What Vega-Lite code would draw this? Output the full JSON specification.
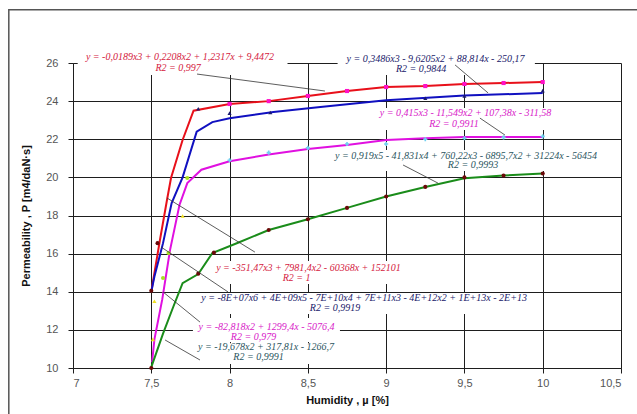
{
  "$schema": "https://vega.github.io/schema/vega-lite/v6.json",
  "width": 548,
  "height": 305,
  "autosize": "none",
  "padding": {"left": 73, "top": 63, "right": 16, "bottom": 46},
  "background": "white",
  "config": {
    "view": {"stroke": null},
    "axis": {
      "grid": true, "gridColor": "#1e1e1e", "gridOpacity": 1, "gridWidth": 1,
      "domainColor": "#1e1e1e", "tickColor": "#1e1e1e", "tickSize": 5,
      "labelFont": "Liberation Sans", "labelFontSize": 11, "labelColor": "#555555",
      "titleFont": "Liberation Sans", "titleFontWeight": "bold", "titleFontSize": 11, "titleColor": "#111111"
    }
  },
  "resolve": {"scale": {"color": "independent", "shape": "independent"}},
  "datasets": {
    "frame": [{"x": 6.59, "x2": 10.7, "y": 28.8, "y2": 7.4}],
    "boxes": [
      {"x": 7.03, "x2": 8.37, "y": 26.7, "y2": 25.37},
      {"x": 8.69, "x2": 9.95, "y": 26.7, "y2": 25.37},
      {"x": 8.93, "x2": 10.09, "y": 23.64, "y2": 22.48},
      {"x": 8.63, "x2": 10.385, "y": 21.44, "y2": 20.33},
      {"x": 7.875, "x2": 9.1, "y": 15.61, "y2": 14.41},
      {"x": 7.766, "x2": 9.951, "y": 13.93, "y2": 12.83},
      {"x": 7.766, "x2": 8.705, "y": 12.62, "y2": 11.36},
      {"x": 7.766, "x2": 8.705, "y": 11.3, "y2": 10.21}
    ],
    "curves": [
      {"series": "red", "x": 7.5, "y": 14.0},
      {"series": "red", "x": 7.555, "y": 16.7},
      {"series": "red", "x": 7.6, "y": 18.8},
      {"series": "red", "x": 7.626, "y": 19.97},
      {"series": "red", "x": 7.7, "y": 21.96},
      {"series": "red", "x": 7.77, "y": 23.5},
      {"series": "red", "x": 8.0, "y": 23.85},
      {"series": "red", "x": 8.25, "y": 24.0},
      {"series": "red", "x": 8.5, "y": 24.27},
      {"series": "red", "x": 8.75, "y": 24.53},
      {"series": "red", "x": 9.0, "y": 24.74},
      {"series": "red", "x": 9.25, "y": 24.79},
      {"series": "red", "x": 9.5, "y": 24.9},
      {"series": "red", "x": 9.75, "y": 24.95},
      {"series": "red", "x": 10.0, "y": 25.0},
      {"series": "blue", "x": 7.5, "y": 14.0},
      {"series": "blue", "x": 7.52, "y": 14.8},
      {"series": "blue", "x": 7.575, "y": 16.55},
      {"series": "blue", "x": 7.63, "y": 18.65},
      {"series": "blue", "x": 7.7, "y": 20.0},
      {"series": "blue", "x": 7.79, "y": 22.4},
      {"series": "blue", "x": 7.89, "y": 22.9},
      {"series": "blue", "x": 8.0, "y": 23.1},
      {"series": "blue", "x": 8.28, "y": 23.43},
      {"series": "blue", "x": 8.58, "y": 23.69},
      {"series": "blue", "x": 9.0, "y": 24.05},
      {"series": "blue", "x": 9.5, "y": 24.3},
      {"series": "blue", "x": 10.0, "y": 24.42},
      {"series": "magenta", "x": 7.505, "y": 10.3},
      {"series": "magenta", "x": 7.52, "y": 11.5},
      {"series": "magenta", "x": 7.57, "y": 13.6},
      {"series": "magenta", "x": 7.62, "y": 16.2},
      {"series": "magenta", "x": 7.68, "y": 18.55},
      {"series": "magenta", "x": 7.73, "y": 19.7},
      {"series": "magenta", "x": 7.82, "y": 20.4},
      {"series": "magenta", "x": 7.92, "y": 20.65},
      {"series": "magenta", "x": 8.0, "y": 20.85},
      {"series": "magenta", "x": 8.25, "y": 21.2},
      {"series": "magenta", "x": 8.5, "y": 21.49},
      {"series": "magenta", "x": 8.75, "y": 21.7},
      {"series": "magenta", "x": 9.0, "y": 21.96},
      {"series": "magenta", "x": 9.25, "y": 22.05},
      {"series": "magenta", "x": 9.5, "y": 22.12},
      {"series": "magenta", "x": 9.75, "y": 22.12},
      {"series": "magenta", "x": 10.0, "y": 22.12},
      {"series": "green", "x": 7.5, "y": 10.05},
      {"series": "green", "x": 7.575, "y": 11.8},
      {"series": "green", "x": 7.64, "y": 13.2},
      {"series": "green", "x": 7.7, "y": 14.45},
      {"series": "green", "x": 7.8, "y": 14.93},
      {"series": "green", "x": 7.89, "y": 16.03},
      {"series": "green", "x": 8.05, "y": 16.56},
      {"series": "green", "x": 8.25, "y": 17.24},
      {"series": "green", "x": 8.5, "y": 17.8},
      {"series": "green", "x": 8.75, "y": 18.4},
      {"series": "green", "x": 9.0, "y": 19.0},
      {"series": "green", "x": 9.25, "y": 19.5},
      {"series": "green", "x": 9.5, "y": 19.95},
      {"series": "green", "x": 9.75, "y": 20.1},
      {"series": "green", "x": 10.0, "y": 20.2}
    ],
    "markers": [
      {"kind": "sq", "x": 8.0, "y": 23.85},
      {"kind": "sq", "x": 8.25, "y": 24.0},
      {"kind": "sq", "x": 8.5, "y": 24.27},
      {"kind": "sq", "x": 8.75, "y": 24.53},
      {"kind": "sq", "x": 9.0, "y": 24.74},
      {"kind": "sq", "x": 9.25, "y": 24.79},
      {"kind": "sq", "x": 9.5, "y": 24.9},
      {"kind": "sq", "x": 9.75, "y": 24.95},
      {"kind": "sq", "x": 10.0, "y": 25.0},
      {"kind": "navy", "x": 7.8, "y": 23.6},
      {"kind": "navy", "x": 8.0, "y": 23.37},
      {"kind": "navy", "x": 8.26, "y": 23.4},
      {"kind": "navy", "x": 9.25, "y": 24.15},
      {"kind": "navy", "x": 9.5, "y": 24.27},
      {"kind": "navy", "x": 10.0, "y": 24.55},
      {"kind": "cyan", "x": 8.0, "y": 20.9},
      {"kind": "cyan", "x": 8.25, "y": 21.3},
      {"kind": "cyan", "x": 8.5, "y": 21.55},
      {"kind": "cyan", "x": 8.75, "y": 21.75},
      {"kind": "cyan", "x": 9.0, "y": 21.75},
      {"kind": "cyan", "x": 9.25, "y": 22.0},
      {"kind": "cyan", "x": 9.5, "y": 22.05},
      {"kind": "cyan", "x": 9.75, "y": 22.1},
      {"kind": "cyan", "x": 10.0, "y": 22.15},
      {"kind": "dred", "x": 7.5, "y": 10.0},
      {"kind": "dred", "x": 7.5, "y": 14.05},
      {"kind": "dred", "x": 7.54, "y": 16.55},
      {"kind": "dred", "x": 7.8, "y": 14.95},
      {"kind": "dred", "x": 7.9, "y": 16.05},
      {"kind": "dred", "x": 8.25, "y": 17.24},
      {"kind": "dred", "x": 8.5, "y": 17.8},
      {"kind": "dred", "x": 8.75, "y": 18.4},
      {"kind": "dred", "x": 9.0, "y": 19.0},
      {"kind": "dred", "x": 9.25, "y": 19.5},
      {"kind": "dred", "x": 9.5, "y": 20.0},
      {"kind": "dred", "x": 9.75, "y": 20.1},
      {"kind": "dred", "x": 10.0, "y": 20.2},
      {"kind": "yel", "x": 7.7, "y": 17.97},
      {"kind": "yel", "x": 7.52, "y": 13.5},
      {"kind": "yel", "x": 7.51, "y": 11.5},
      {"kind": "lime", "x": 7.73, "y": 19.97},
      {"kind": "lime", "x": 7.61, "y": 16.03},
      {"kind": "lime", "x": 7.575, "y": 14.72}
    ],
    "arrows": [
      {"x": 7.792, "y": 25.42, "x2": 8.609, "y2": 24.53},
      {"x": 9.44, "y": 25.9, "x2": 9.651, "y2": 24.43},
      {"x": 9.599, "y": 23.11, "x2": 9.759, "y2": 22.22},
      {"x": 9.108, "y": 20.65, "x2": 9.331, "y2": 19.7},
      {"x": 8.162, "y": 16.08, "x2": 7.6, "y2": 18.92},
      {"x": 7.99, "y": 13.99, "x2": 7.562, "y2": 16.35},
      {"x": 7.811, "y": 12.41, "x2": 7.575, "y2": 13.99},
      {"x": 7.811, "y": 10.42, "x2": 7.588, "y2": 11.47}
    ],
    "labels": [
      {"c": "red", "x": 7.683, "y": 26.315, "t": "y = -0,0189x3 + 0,2208x2 + 1,2317x + 9,4472"},
      {"c": "red", "x": 7.671, "y": 25.74, "t": "R2 = 0,997"},
      {"c": "navy", "x": 9.315, "y": 26.21, "t": "y = 0,3486x3 - 9,6205x2 + 88,814x - 250,17"},
      {"c": "navy", "x": 9.223, "y": 25.69, "t": "R2 = 0,9844"},
      {"c": "mag", "x": 9.507, "y": 23.38, "t": "y = 0,415x3 - 11,549x2 + 107,38x - 311,58"},
      {"c": "mag", "x": 9.433, "y": 22.8, "t": "R2 = 0,9911"},
      {"c": "teal", "x": 9.51, "y": 21.14, "t": "y = 0,919x5 - 41,831x4 + 760,22x3 - 6895,7x2 + 31224x - 56454"},
      {"c": "teal", "x": 9.555, "y": 20.63, "t": "R2 = 0,9993"},
      {"c": "red", "x": 8.504, "y": 15.24, "t": "y = -351,47x3 + 7981,4x2 - 60368x + 152101"},
      {"c": "red", "x": 8.428, "y": 14.72, "t": "R2 = 1"},
      {"c": "navy", "x": 8.859, "y": 13.67, "t": "y = -8E+07x6 + 4E+09x5 - 7E+10x4 + 7E+11x3 - 4E+12x2 + 1E+13x - 2E+13"},
      {"c": "navy", "x": 8.673, "y": 13.15, "t": "R2 = 0,9919"},
      {"c": "mag", "x": 8.236, "y": 12.15, "t": "y = -82,818x2 + 1299,4x - 5076,4"},
      {"c": "mag", "x": 8.153, "y": 11.62, "t": "R2 = 0,979"},
      {"c": "teal", "x": 8.233, "y": 11.1, "t": "y = -19,678x2 + 317,81x - 1266,7"},
      {"c": "teal", "x": 8.185, "y": 10.57, "t": "R2 = 0,9991"}
    ]
  },
  "encoding": {
    "x": {
      "field": "x", "type": "quantitative",
      "scale": {"domain": [7, 10.5], "nice": false, "zero": false},
      "axis": {
        "values": [7, 7.5, 8, 8.5, 9, 9.5, 10, 10.5],
        "labelExpr": "replace(format(datum.value, '~g'), '.', ',')",
        "labelPadding": 4, "title": "Humidity    , µ [%]", "titlePadding": 6
      }
    },
    "y": {
      "field": "y", "type": "quantitative",
      "scale": {"domain": [10, 26], "nice": false, "zero": false},
      "axis": {
        "values": [10, 12, 14, 16, 18, 20, 22, 24, 26],
        "labelPadding": 10, "title": "Permeability  , P [m4/daN·s]", "titlePadding": 14
      }
    }
  },
  "layer": [
    {
      "data": {"name": "frame"},
      "mark": {"type": "rect", "fill": null, "stroke": "#555555", "strokeWidth": 1.5, "clip": false},
      "encoding": {"x2": {"field": "x2"}, "y2": {"field": "y2"}}
    },
    {
      "data": {"name": "boxes"},
      "mark": {"type": "rect", "fill": "white", "clip": false},
      "encoding": {"x2": {"field": "x2"}, "y2": {"field": "y2"}}
    },
    {
      "data": {"name": "curves"},
      "mark": {"type": "line", "strokeWidth": 2},
      "encoding": {
        "color": {
          "field": "series", "type": "nominal", "legend": null,
          "scale": {"domain": ["red", "blue", "magenta", "green"], "range": ["#e8101a", "#1010c0", "#e010e0", "#1a8c1a"]}
        },
        "order": {"field": "x", "type": "quantitative"}
      }
    },
    {
      "data": {"name": "markers"},
      "mark": {"type": "point", "filled": true, "opacity": 1},
      "encoding": {
        "color": {
          "field": "kind", "type": "nominal", "legend": null,
          "scale": {"domain": ["sq", "navy", "cyan", "dred", "yel", "lime"], "range": ["#ff10c8", "#1a1a70", "#70d0f0", "#6a0808", "#f0e020", "#a8e020"]}
        },
        "shape": {
          "field": "kind", "type": "nominal", "legend": null,
          "scale": {"domain": ["sq", "navy", "cyan", "dred", "yel", "lime"], "range": ["square", "triangle-up", "cross", "circle", "triangle-up", "circle"]}
        },
        "size": {"value": 17}
      }
    },
    {
      "data": {"name": "arrows"},
      "mark": {"type": "rule", "color": "#333333", "strokeWidth": 0.8},
      "encoding": {"x2": {"field": "x2"}, "y2": {"field": "y2"}}
    },
    {
      "data": {"name": "labels"},
      "mark": {"type": "text", "font": "Liberation Serif", "fontStyle": "italic", "fontSize": 10, "align": "center", "baseline": "middle", "clip": false},
      "encoding": {
        "text": {"field": "t"},
        "color": {
          "field": "c", "type": "nominal", "legend": null,
          "scale": {"domain": ["red", "navy", "mag", "teal"], "range": ["#d42040", "#20206a", "#d820c8", "#2a5560"]}
        }
      }
    }
  ]
}
